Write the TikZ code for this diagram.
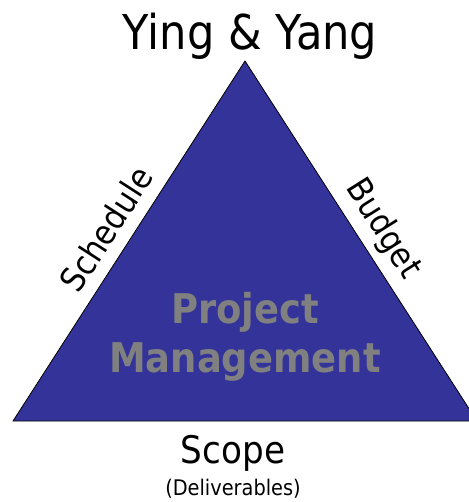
\documentclass[tikz,border=0pt]{standalone}
\usepackage{fontspec}
\setmainfont[FakeStretch=0.9]{DejaVu Sans}
\definecolor{pmblue}{HTML}{333399}
\definecolor{pmgray}{HTML}{808080}
\begin{document}
\begin{tikzpicture}[x=1pt,y=-1pt,
  lbl/.style={inner sep=0pt, text=black},
  core/.style={inner sep=0pt, text=pmgray, font=\fontsize{41}{49}\selectfont\bfseries}]
\useasboundingbox (0,0) rectangle (468,502);
\coordinate (apex) at (245,61);
\coordinate (bl) at (13,421);
\coordinate (br) at (477,421);
\draw[fill=pmblue, line width=0.8pt] (apex) -- (bl) -- (br) -- cycle;
\node[lbl, anchor=base, font=\fontsize{48}{58}\selectfont] (title) at (250,50) {Ying \& Yang};
\node[lbl, anchor=base, font=\fontsize{38}{46}\selectfont] (scope) at (233,463) {Scope};
\node[lbl, anchor=base, font=\fontsize{21.5}{26}\selectfont] (deliv) at (233,495) {(Deliverables)};
\node[core, anchor=base] (proj) at (245,323) {Project};
\node[core, anchor=base] (mgmt) at (245,372) {Management};
\node[lbl, rotate=57.2, font=\fontsize{34}{40}\selectfont] (sched) at (106,229) {Schedule};
\node[lbl, rotate=-57.8, font=\fontsize{34}{40}\selectfont] (budget) at (383,229) {Budget};
\end{tikzpicture}
\end{document}
